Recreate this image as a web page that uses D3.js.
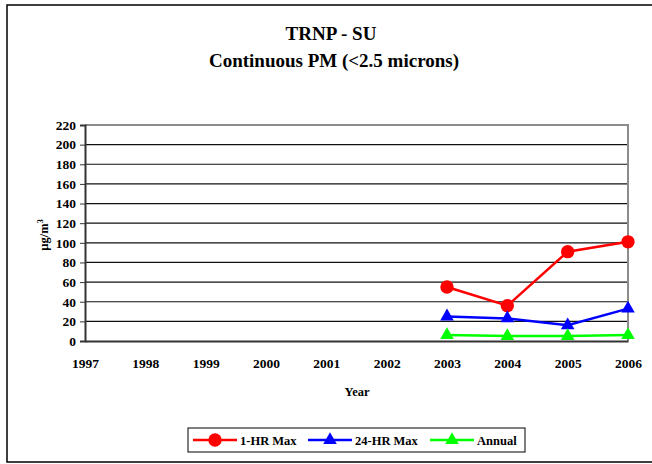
<!DOCTYPE html>
<html>
<head>
<meta charset="utf-8">
<script src="https://cdn.jsdelivr.net/npm/d3@7"></script>
<style>
  html, body { margin: 0; padding: 0; background: #fff; }
  svg { display: block; font-family: "Liberation Serif", "Times New Roman", serif; font-weight: bold; }
</style>
</head>
<body>
<script>
// Monitoring years and yearly PM2.5 statistics (µg/m³); null = no data
const years = ["1997", "1998", "1999", "2000", "2001", "2002", "2003", "2004", "2005", "2006"];
const oneHrMax = [null, null, null, null, null, null, 55, 36, 91, 101];
const twentyFourHrMax = [null, null, null, null, null, null, 25, 23, 16, 33];
const annual = [null, null, null, null, null, null, 6, 5, 5, 6];
const yTicks = [0, 20, 40, 60, 80, 100, 120, 140, 160, 180, 200, 220];

const seriesList = [
  { name: "1-HR Max", values: oneHrMax, color: "#ff0000", marker: "circle" },
  { name: "24-HR Max", values: twentyFourHrMax, color: "#0000ff", marker: "triangle" },
  { name: "Annual", values: annual, color: "#00ff00", marker: "triangle" }
];

const W = 652, H = 464;
const plot = { left: 85, right: 628, top: 125, bottom: 341 };
const serif = "'Liberation Serif', 'Times New Roman', serif";

const svg = d3.select("body").append("svg").attr("width", W).attr("height", H);

// outer chart frame
svg.append("rect").attr("x", 7).attr("y", 5).attr("width", 660).attr("height", 457)
  .attr("fill", "none").attr("stroke", "#000").attr("stroke-width", 1.5);

// title
const title = svg.append("text").attr("text-anchor", "middle").attr("font-size", 19);
title.append("tspan").attr("x", 331).attr("y", 40).text("TRNP - SU");
title.append("tspan").attr("x", 334).attr("y", 67).text("Continuous PM (<2.5 microns)");

const x = d3.scalePoint().domain(years).range([plot.left, plot.right]);
const y = d3.scaleLinear().domain([0, 220]).range([plot.bottom, plot.top]);

// horizontal gridlines
svg.append("g").selectAll("line").data(yTicks.filter(d => d > 0 && d < 220)).join("line")
  .attr("x1", plot.left).attr("x2", plot.right)
  .attr("y1", d => y(d)).attr("y2", d => y(d))
  .attr("stroke", "#111").attr("stroke-width", 1.2);

// plot area border (top/right gray)
svg.append("path")
  .attr("d", `M${plot.left},${plot.top}H${plot.right}V${plot.bottom}`)
  .attr("fill", "none").attr("stroke", "#8c8c8c").attr("stroke-width", 2);

// y axis
const yAxis = svg.append("g").attr("transform", `translate(${plot.left},0)`)
  .attr("font-family", serif)
  .call(d3.axisLeft(y).tickValues(yTicks).tickSize(5).tickPadding(4));
yAxis.attr("font-family", serif);
yAxis.select(".domain").attr("stroke", "#333").attr("stroke-width", 2);
yAxis.selectAll(".tick line").attr("stroke", "#333");
yAxis.selectAll("text").attr("font-size", 13.5).attr("font-weight", "bold").attr("fill", "#000");

// x axis
const xAxis = svg.append("g").attr("transform", `translate(0,${plot.bottom})`)
  .call(d3.axisBottom(x).tickSize(0).tickPadding(17));
xAxis.attr("font-family", serif);
xAxis.select(".domain").attr("stroke", "#333").attr("stroke-width", 2);
xAxis.selectAll("text").attr("font-size", 13.5).attr("font-weight", "bold").attr("fill", "#000");

// axis titles
svg.append("text").attr("x", 357).attr("y", 396)
  .attr("text-anchor", "middle").attr("font-size", 12.5).text("Year");
const yl = svg.append("text").attr("transform", "translate(48,235) rotate(-90)")
  .attr("text-anchor", "middle").attr("font-size", 12.5);
yl.append("tspan").text("µg/m");
yl.append("tspan").attr("dy", -5).attr("font-size", 8).text("3");

const triangle = d3.symbol().type(d3.symbolTriangle).size(80);
const circle = d3.symbol().type(d3.symbolCircle).size(140);

function drawMarker(g, s, cx, cy) {
  g.append("path").attr("d", s.marker === "circle" ? circle() : triangle())
    .attr("transform", `translate(${cx},${cy})`).attr("fill", s.color);
}

// series lines and markers
seriesList.forEach(s => {
  const pts = years.map((yr, i) => ({ yr, v: s.values[i] })).filter(d => d.v != null);
  const line = d3.line().x(d => x(d.yr)).y(d => y(d.v));
  const g = svg.append("g");
  g.append("path").attr("d", line(pts)).attr("fill", "none")
    .attr("stroke", s.color).attr("stroke-width", 2.5);
  pts.forEach(d => drawMarker(g, s, x(d.yr), y(d.v)));
});

// legend
const lg = svg.append("g");
lg.append("rect").attr("x", 188).attr("y", 428).attr("width", 337).attr("height", 24)
  .attr("fill", "#fff").attr("stroke", "#000").attr("stroke-width", 1);
const legendX = [193, 308, 430];
seriesList.forEach((s, i) => {
  const lx = legendX[i];
  lg.append("line").attr("x1", lx).attr("x2", lx + 44).attr("y1", 440).attr("y2", 440)
    .attr("stroke", s.color).attr("stroke-width", 2.5);
  drawMarker(lg, s, lx + 22, 440);
  lg.append("text").attr("x", lx + 47).attr("y", 444.5).attr("font-size", 12.5).text(s.name);
});
</script>
</body>
</html>
